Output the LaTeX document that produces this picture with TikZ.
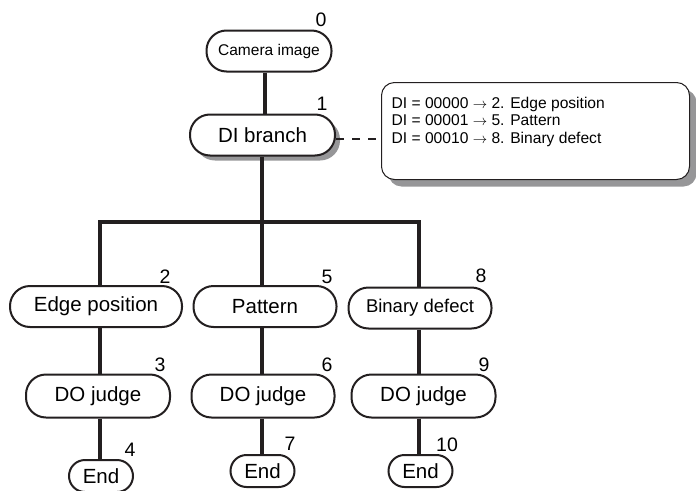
\documentclass[tikz,border=0pt]{standalone}
\usepackage{fontspec}
\setmainfont{Liberation Sans}
\usetikzlibrary{shadows}
\definecolor{ink}{RGB}{35,31,32}
\definecolor{shade}{RGB}{150,150,152}

\begin{document}
\begin{tikzpicture}[x=1pt, y=-1pt,
  stage/.style={draw=ink, line width=2pt, fill=white, rounded corners=20pt,
    minimum height=41pt, inner sep=0pt, font=\fontsize{20.5}{24}\selectfont},
  stop/.style={stage, rounded corners=16pt, minimum height=32pt, minimum width=64pt},
  num/.style={font=\fontsize{19.5}{22}\selectfont, inner sep=0pt},
  link/.style={ink, line width=4.2pt},
  shade/.style={drop shadow={shadow xshift=#1, shadow yshift=-#1, fill=shade, opacity=1}}]
  \useasboundingbox (0,0) rectangle (696,490);
  % top of the tree
  \node[stage, minimum width=125pt, font=\fontsize{15.5}{18}\selectfont] (cam) at (269,51) {Camera image};
  \node[stage, minimum width=145pt, shade=5pt] (di) at (262.5,135) {DI branch};
  % branch table
  \node[draw=ink, line width=1pt, fill=white, rounded corners=13pt, minimum width=308pt,
    minimum height=97pt, shade=7pt, anchor=north west] (info) at (381,82) {};
  \node[anchor=north west, align=left, inner sep=0pt, font=\fontsize{15.6}{17.5}\selectfont]
    (infotxt) at (391.5,96.5) {DI = 00000 $\rightarrow$ 2. Edge position\\
    DI = 00001 $\rightarrow$ 5. Pattern\\
    DI = 00010 $\rightarrow$ 8. Binary defect};
  % three inspections
  \node[stage, minimum width=172pt] (edge) at (96,306.5) {Edge position};
  \node[stage, minimum width=143pt] (pat) at (265,306.5) {Pattern};
  \node[stage, minimum width=143pt, font=\fontsize{18.5}{22}\selectfont] (bin) at (420,308) {Binary defect};
  \node[stage, minimum width=144pt, minimum height=43pt] (do1) at (98,396) {DO judge};
  \node[stage, minimum width=143pt, minimum height=43pt] (do2) at (263,396) {DO judge};
  \node[stage, minimum width=144pt, minimum height=43pt] (do3) at (423.5,396) {DO judge};
  \node[stop] (end1) at (101,476) {End};
  \node[stop] (end2) at (262.5,471) {End};
  \node[stop] (end3) at (420.5,471) {End};
  % step numbers
  \node[num] (n0) at (321,20) {0};
  \node[num] (n1) at (322,104) {1};
  \node[num] (n2) at (165,277) {2};
  \node[num] (n5) at (327,277) {5};
  \node[num] (n8) at (481,276) {8};
  \node[num] (n3) at (160,365) {3};
  \node[num] (n6) at (327,365) {6};
  \node[num] (n9) at (484,365) {9};
  \node[num] (n4) at (130,450) {4};
  \node[num] (n7) at (290,444) {7};
  \node[num] (n10) at (447,445) {10};
  % connectors
  \coordinate (j1) at (100,222);
  \coordinate (j2) at (262,222);
  \coordinate (j3) at (419,222);
  \draw[link] (cam.south -| 265,0) -- (di.north -| 265,0);
  \draw[link] (di.south -| j2) -- (j2);
  \draw[link, line cap=rect] (j1) -- (j3);
  \draw[link] (j1) -- (edge.north -| j1);
  \draw[link] (j2) -- (pat.north -| j2);
  \draw[link] (j3) -- (bin.north -| j3);
  \draw[link] (edge.south -| j1) -- (do1.north -| j1);
  \draw[link] (pat.south -| j2) -- (do2.north -| j2);
  \draw[link] (bin.south -| j3) -- (do3.north -| j3);
  \draw[link] (do1.south -| j1) -- (end1.north -| j1);
  \draw[link] (do2.south -| j2) -- (end2.north -| j2);
  \draw[link] (do3.south -| j3) -- (end3.north -| j3);
  \draw[ink, line width=2.4pt, dash pattern=on 8pt off 8pt] (di.east |- 0,139) -- (info.west |- 0,139);
\end{tikzpicture}
\end{document}
